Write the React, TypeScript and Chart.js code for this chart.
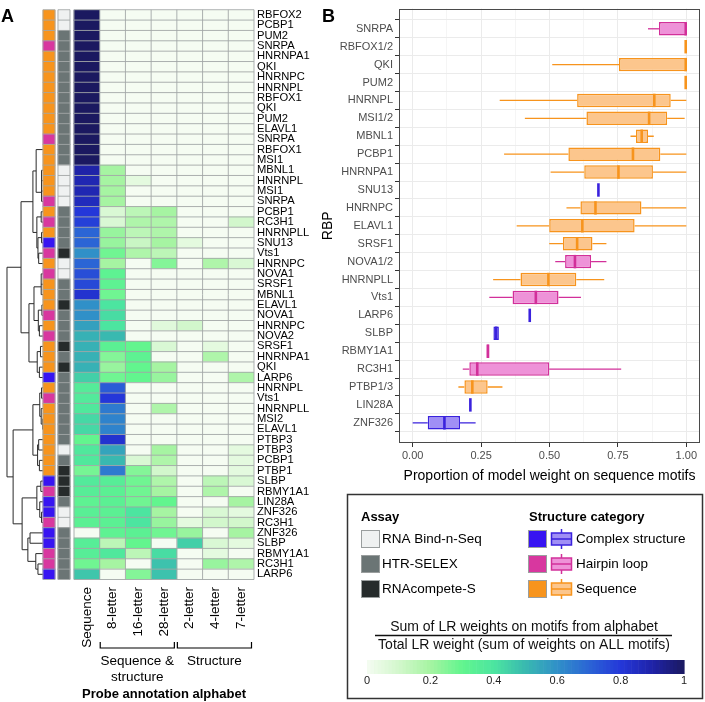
import React, { useEffect, useRef } from "react";
import { Chart, registerables } from "chart.js";

Chart.register(...registerables);

const FONT = "'Liberation Sans', Arial, Helvetica, sans-serif";
Chart.defaults.font.family = FONT;

// ---------------- Panel A data ----------------
const rowLabels = [
  "RBFOX2", "PCBP1", "PUM2", "SNRPA", "HNRNPA1", "QKI", "HNRNPC", "HNRNPL", "RBFOX1", "QKI",
  "PUM2", "ELAVL1", "SNRPA", "RBFOX1", "MSI1", "MBNL1", "HNRNPL", "MSI1", "SNRPA", "PCBP1",
  "RC3H1", "HNRNPLL", "SNU13", "Vts1", "HNRNPC", "NOVA1", "SRSF1", "MBNL1", "ELAVL1", "NOVA1",
  "HNRNPC", "NOVA2", "SRSF1", "HNRNPA1", "QKI", "LARP6", "HNRNPL", "Vts1", "HNRNPLL", "MSI2",
  "ELAVL1", "PTBP3", "PTBP3", "PCBP1", "PTBP1", "SLBP", "RBMY1A1", "LIN28A", "ZNF326", "RC3H1",
  "ZNF326", "SLBP", "RBMY1A1", "RC3H1", "LARP6",
];

// S = Sequence, H = Hairpin loop, C = Complex structure
const rowStructure = [
  "S", "S", "S", "H", "S", "S", "S", "S", "S", "S",
  "S", "S", "H", "S", "S", "S", "S", "S", "H", "S",
  "H", "S", "C", "H", "S", "H", "S", "S", "S", "H",
  "S", "H", "S", "S", "S", "C", "S", "H", "S", "S",
  "S", "S", "S", "S", "S", "C", "H", "C", "C", "H",
  "C", "C", "H", "H", "C",
];

// B = RNA Bind-n-Seq, X = HTR-SELEX, R = RNAcompete-S
const rowAssay = [
  "B", "B", "X", "X", "X", "X", "X", "X", "X", "X",
  "X", "X", "X", "X", "X", "B", "B", "B", "B", "X",
  "X", "X", "X", "R", "B", "B", "X", "X", "R", "X",
  "X", "X", "R", "X", "R", "X", "X", "X", "X", "X",
  "X", "X", "B", "X", "R", "R", "R", "X", "B", "B",
  "X", "X", "X", "X", "X",
];

const alphabetNames = ["Sequence", "8-letter", "16-letter", "28-letter", "2-letter", "4-letter", "7-letter"];

const wSequence = [
  1, 1, 1, 1, 1, 1, 1, 1, 1, 1,
  1, 1, 1, 1, 1, 0.9, 0.88, 0.88, 0.86, 0.8,
  0.78, 0.7, 0.7, 0.6, 0.7, 0.75, 0.76, 0.82, 0.6, 0.6,
  0.56, 0.52, 0.52, 0.52, 0.52, 0.45, 0.36, 0.37, 0.38, 0.43,
  0.43, 0.3, 0.38, 0.38, 0.27, 0.37, 0.35, 0.32, 0.34, 0.33,
  0, 0.35, 0.35, 0.28, 0.47,
];
const w8letter = [
  0, 0, 0, 0, 0, 0, 0, 0, 0, 0,
  0, 0, 0, 0, 0, 0.2, 0.2, 0.2, 0.2, 0.08,
  0.08, 0.22, 0.22, 0.28, 0.2, 0.32, 0.32, 0.28, 0.4, 0.42,
  0.4, 0.5, 0.33, 0.25, 0.22, 0.28, 0.72, 0.8, 0.65, 0.63,
  0.63, 0.82, 0.55, 0.5, 0.65, 0.35, 0.33, 0.33, 0.33, 0.33,
  0.32, 0.15, 0.38, 0.2, 0,
];
const w16letter = [
  0, 0, 0, 0, 0, 0, 0, 0, 0, 0,
  0, 0, 0, 0, 0, 0, 0.05, 0, 0, 0.15,
  0.18, 0.15, 0.12, 0.18, 0, 0, 0, 0, 0, 0,
  0, 0, 0.3, 0.32, 0.3, 0.3, 0, 0, 0, 0,
  0, 0, 0, 0.08, 0.25, 0.28, 0.28, 0.28, 0.4, 0.4,
  0.33, 0.3, 0.15, 0, 0.25,
];
const w28letter = [
  0, 0, 0, 0, 0, 0, 0, 0, 0, 0,
  0, 0, 0, 0, 0, 0, 0, 0, 0, 0.2,
  0.18, 0.18, 0.2, 0.15, 0.25, 0, 0, 0, 0, 0,
  0.06, 0, 0.08, 0, 0.2, 0.22, 0, 0, 0.18, 0,
  0, 0, 0.2, 0.18, 0.1, 0.18, 0.2, 0.3, 0.2, 0.22,
  0.28, 0, 0.42, 0.48, 0.48,
];
const w2letter = [
  0, 0, 0, 0, 0, 0, 0, 0, 0, 0,
  0, 0, 0, 0, 0, 0, 0, 0, 0, 0,
  0, 0, 0.05, 0, 0, 0, 0, 0, 0, 0,
  0.1, 0, 0, 0, 0, 0, 0, 0, 0, 0,
  0, 0, 0, 0, 0, 0, 0, 0, 0, 0.05,
  0.22, 0.45, 0, 0, 0,
];
const w4letter = [
  0, 0, 0, 0, 0, 0, 0, 0, 0, 0,
  0, 0, 0, 0, 0, 0, 0, 0, 0, 0,
  0, 0, 0, 0, 0.18, 0, 0, 0, 0, 0,
  0, 0, 0.05, 0.18, 0, 0, 0, 0, 0, 0,
  0, 0, 0, 0, 0, 0.15, 0.18, 0, 0.08, 0.1,
  0, 0.08, 0.05, 0.22, 0,
];
const w7letter = [
  0, 0, 0, 0, 0, 0, 0, 0, 0, 0,
  0, 0, 0, 0, 0, 0, 0, 0, 0, 0,
  0.1, 0, 0, 0, 0.08, 0, 0, 0, 0, 0,
  0, 0, 0, 0, 0, 0.18, 0, 0, 0, 0,
  0, 0, 0.05, 0.05, 0.05, 0.08, 0, 0.2, 0.05, 0.1,
  0.2, 0.05, 0, 0.18, 0,
];

// dendrogram: arrays = children..., last element = merge height (0..1); numbers = row (1-based)
const dendroTree: any = [
  [
    [
      [[1, 2, 3, 4, 5, 6, 7, 8, 9, 10, 11, 12, 13, 14, 15, 0], [16, 17, 18, 19, 0.04], 0.19],
      [[20, 21, 0.05], [[22, 23, 0.04], [24, 25, 0.12], 0.14], 0.17],
      0.28,
    ],
    [
      [[26, 27, 28, 0.05], [[29, 30, 0.03], [31, 32, 0.1], 0.13], 0.25],
      [[33, 34, 0.07], [35, 36, 0.1], 0.16],
      0.39,
    ],
    0.61,
  ],
  [
    [[[37, 38, 0.04], [39, [40, 41, 0.01], 0.05], 0.09], [[42, 43, 0.12], [44, 45, 0.1], 0.15], 0.28],
    [[[46, 47, 0.06], [48, [49, 50, 0.04], 0.09], 0.17], [[51, 52, 0.36], [53, [54, 55, 0.14], 0.2], 0.42], 0.58],
    0.83,
  ],
  1.0,
];

const columnGroups = [
  { lines: ["Sequence &", "structure"], from: 1, to: 4 },
  { lines: ["Structure"], from: 4, to: 7 },
];

// ---------------- Panel B data ----------------
const rbpNames = [
  "SNRPA", "RBFOX1/2", "QKI", "PUM2", "HNRNPL", "MSI1/2", "MBNL1", "PCBP1", "HNRNPA1", "SNU13",
  "HNRNPC", "ELAVL1", "SRSF1", "NOVA1/2", "HNRNPLL", "Vts1", "LARP6", "SLBP", "RBMY1A1", "RC3H1",
  "PTBP1/3", "LIN28A", "ZNF326",
];
const rbpStructure = ["H", "S", "S", "S", "S", "S", "S", "S", "S", "C", "S", "S", "S", "H", "S", "H", "C", "C", "H", "H", "S", "C", "C"];
const whiskerLow = [0.86, 1, 0.51, 1, 0.318, 0.41, 0.796, 0.334, 0.504, 0.681, 0.562, 0.38, 0.499, 0.521, 0.294, 0.28, 0.43, 0.295, 0.27, 0.183, 0.167, 0.213, 0.0];
const quart1 = [0.9, 1, 0.754, 1, 0.601, 0.635, 0.816, 0.569, 0.627, 0.681, 0.613, 0.499, 0.549, 0.557, 0.394, 0.365, 0.43, 0.295, 0.27, 0.207, 0.189, 0.213, 0.055];
const medians = [1.0, 1, 1.0, 1, 0.883, 0.864, 0.837, 0.805, 0.752, 0.681, 0.668, 0.62, 0.601, 0.593, 0.496, 0.45, 0.43, 0.305, 0.275, 0.236, 0.218, 0.213, 0.116];
const quart3 = [1.0, 1, 1.0, 1, 0.943, 0.93, 0.86, 0.905, 0.878, 0.681, 0.836, 0.811, 0.657, 0.652, 0.598, 0.533, 0.43, 0.315, 0.28, 0.499, 0.274, 0.213, 0.173];
const whiskerHigh = [1.0, 1, 1.0, 1, 1.0, 0.994, 0.881, 1.0, 1.0, 0.681, 1.0, 1.0, 0.708, 0.708, 0.7, 0.615, 0.43, 0.315, 0.28, 0.762, 0.328, 0.213, 0.23];

const xMajorTicks = [0, 0.25, 0.5, 0.75, 1];
const xMinorTicks = [0.125, 0.375, 0.625, 0.875];

const assayLegend = [
  { code: "B", name: "RNA Bind-n-Seq" },
  { code: "X", name: "HTR-SELEX" },
  { code: "R", name: "RNAcompete-S" },
];
const structureLegend = [
  { code: "C", name: "Complex structure" },
  { code: "H", name: "Hairpin loop" },
  { code: "S", name: "Sequence" },
];
const colorbarTicks = [0, 0.2, 0.4, 0.6, 0.8, 1];
const colorbarTickLabels = ["0", "0.2", "0.4", "0.6", "0.8", "1"];

// ---------------- styles ----------------
const STRUCT_COLORS: Record<string, string> = { S: "#F7941D", H: "#D8379F", C: "#3714F2" };
const BOX_FILL: Record<string, string> = { S: "#FCC68D", H: "#EE92D8", C: "#A08FF5" };
const BOX_STROKE: Record<string, string> = { S: "#F7941D", H: "#D2309A", C: "#3A22DD" };
const ASSAY_COLORS: Record<string, string> = { B: "#EFF1F1", X: "#6B7575", R: "#262B2B" };

const heatStops: [number, string][] = [
  [0, "#F5FCF2"], [0.1, "#D2F7CC"], [0.2, "#A6F4A2"], [0.3, "#62F58E"], [0.4, "#4CE5A0"],
  [0.5, "#39B9B0"], [0.6, "#3090C8"], [0.7, "#2B65D5"], [0.8, "#2437D9"], [0.9, "#1F23A8"], [1, "#1B1960"],
];
function hexToRgb(h: string) {
  return [parseInt(h.slice(1, 3), 16), parseInt(h.slice(3, 5), 16), parseInt(h.slice(5, 7), 16)];
}
function heatColor(v: number) {
  const t = Math.max(0, Math.min(1, v));
  for (let i = 1; i < heatStops.length; i++) {
    const [v1, c1] = heatStops[i];
    const [v0, c0] = heatStops[i - 1];
    if (t <= v1) {
      const f = (t - v0) / (v1 - v0);
      const a = hexToRgb(c0), b = hexToRgb(c1);
      return `rgb(${Math.round(a[0] + (b[0] - a[0]) * f)},${Math.round(a[1] + (b[1] - a[1]) * f)},${Math.round(a[2] + (b[2] - a[2]) * f)})`;
    }
  }
  return heatStops[heatStops.length - 1][1];
}

// x units of panel A: one heat column = 1 unit
const X_MIN = -2.878;
const X_MAX = 7;
const STRUCT_L = -1.206, STRUCT_R = -0.739;
const ASSAY_L = -0.623, ASSAY_R = -0.156;
const DENDRO_SPAN = 1.4;

function walkTree(ctx: CanvasRenderingContext2D, node: any, xOf: (h: number) => number, yOf: (r: number) => number): { x: number; y: number } {
  if (typeof node === "number") return { x: xOf(0), y: yOf(node) };
  const h = node[node.length - 1];
  const kids = node.slice(0, -1).map((k: any) => walkTree(ctx, k, xOf, yOf));
  const x = xOf(h);
  let y = kids[0].y;
  for (let i = 1; i < kids.length; i++) y = (y + kids[i].y) / 2;
  if (h > 0) {
    const ys = kids.map((k: any) => k.y);
    ctx.beginPath();
    ctx.moveTo(x, Math.min(...ys));
    ctx.lineTo(x, Math.max(...ys));
    kids.forEach((k: any) => {
      ctx.moveTo(k.x, k.y);
      ctx.lineTo(x, k.y);
    });
    ctx.stroke();
  }
  return { x, y };
}

const panelAPlugin = {
  id: "panelA",
  beforeDatasetsDraw(chart: any) {
    const { ctx } = chart;
    const xs = chart.scales.x, ys = chart.scales.y;
    ctx.save();
    ctx.strokeStyle = "#2a2a2a";
    ctx.lineWidth = 1;
    walkTree(ctx, dendroTree, (h) => xs.getPixelForValue(STRUCT_L - h * DENDRO_SPAN), (r) => ys.getPixelForValue(r - 1));
    ctx.restore();
  },
  afterDatasetsDraw(chart: any) {
    const { ctx } = chart;
    const xs = chart.scales.x, ys = chart.scales.y;
    const n = rowLabels.length;
    const band = ys.getPixelForValue(1) - ys.getPixelForValue(0);
    const top = ys.getPixelForValue(0) - band / 2;
    const blocks: [number, number, number][] = [[STRUCT_L, STRUCT_R, 1], [ASSAY_L, ASSAY_R, 1], [0, alphabetNames.length, alphabetNames.length]];
    ctx.save();
    ctx.strokeStyle = "#A3A7A7";
    ctx.lineWidth = 0.9;
    blocks.forEach(([L, R, cols]) => {
      const x0 = xs.getPixelForValue(L), x1 = xs.getPixelForValue(R);
      ctx.beginPath();
      for (let r = 0; r <= n; r++) {
        const y = top + r * band;
        ctx.moveTo(x0, y);
        ctx.lineTo(x1, y);
      }
      for (let c = 0; c <= cols; c++) {
        const x = x0 + ((x1 - x0) * c) / cols;
        ctx.moveTo(x, top);
        ctx.lineTo(x, top + n * band);
      }
      ctx.stroke();
    });
    ctx.restore();
  },
  afterDraw(chart: any) {
    const { ctx } = chart;
    const xs = chart.scales.x;
    const bottom = chart.chartArea.bottom;
    ctx.save();
    ctx.fillStyle = "#000";
    ctx.font = `13.5px ${FONT}`;
    alphabetNames.forEach((name, j) => {
      const px = xs.getPixelForValue(j + 0.5);
      ctx.save();
      ctx.translate(px, bottom + 7.5);
      ctx.rotate(-Math.PI / 2);
      ctx.textAlign = "right";
      ctx.textBaseline = "middle";
      ctx.fillText(name, 0, 0);
      ctx.restore();
    });
    ctx.strokeStyle = "#000";
    ctx.lineWidth = 1.2;
    ctx.textAlign = "center";
    ctx.textBaseline = "middle";
    columnGroups.forEach((g) => {
      const x0 = xs.getPixelForValue(g.from) + 0.5;
      const x1 = xs.getPixelForValue(g.to) - 2.5;
      const yb = bottom + 68.5;
      ctx.beginPath();
      ctx.moveTo(x0, yb - 6);
      ctx.lineTo(x0, yb);
      ctx.lineTo(x1, yb);
      ctx.lineTo(x1, yb - 6);
      ctx.stroke();
      g.lines.forEach((t, k) => ctx.fillText(t, (x0 + x1) / 2, bottom + 81.5 + k * 16));
    });
    ctx.font = `bold 13px ${FONT}`;
    ctx.fillText("Probe annotation alphabet", (xs.getPixelForValue(0) + xs.getPixelForValue(alphabetNames.length)) / 2, bottom + 114.5);
    ctx.font = `bold 18px ${FONT}`;
    ctx.textAlign = "left";
    ctx.textBaseline = "alphabetic";
    ctx.fillText("A", 1, 22);
    ctx.restore();
  },
};

function drawGlyph(ctx: CanvasRenderingContext2D, x: number, cy: number, code: string) {
  const w = 20;
  ctx.strokeStyle = BOX_STROKE[code];
  ctx.lineWidth = 1.5;
  ctx.fillStyle = BOX_FILL[code];
  ctx.fillRect(x, cy - 6, w, 12);
  ctx.strokeRect(x, cy - 6, w, 12);
  ctx.beginPath();
  ctx.moveTo(x, cy);
  ctx.lineTo(x + w, cy);
  ctx.moveTo(x + w / 2, cy - 10);
  ctx.lineTo(x + w / 2, cy - 6);
  ctx.moveTo(x + w / 2, cy + 6);
  ctx.lineTo(x + w / 2, cy + 10);
  ctx.stroke();
}

const panelBPlugin = {
  id: "panelB",
  beforeDatasetsDraw(chart: any) {
    const { ctx } = chart;
    const xs = chart.scales.x, ys = chart.scales.y;
    ctx.save();
    ctx.lineWidth = 1.3;
    rbpNames.forEach((_, i) => {
      const y = ys.getPixelForValue(i);
      ctx.strokeStyle = BOX_STROKE[rbpStructure[i]];
      ctx.beginPath();
      if (whiskerLow[i] < quart1[i]) {
        ctx.moveTo(xs.getPixelForValue(whiskerLow[i]), y);
        ctx.lineTo(xs.getPixelForValue(quart1[i]), y);
      }
      if (whiskerHigh[i] > quart3[i]) {
        ctx.moveTo(xs.getPixelForValue(quart3[i]), y);
        ctx.lineTo(xs.getPixelForValue(whiskerHigh[i]), y);
      }
      ctx.stroke();
    });
    ctx.restore();
  },
  afterDatasetsDraw(chart: any) {
    const { ctx, chartArea } = chart;
    const xs = chart.scales.x, ys = chart.scales.y;
    const meta = chart.getDatasetMeta(0);
    ctx.save();
    ctx.lineWidth = 2.6;
    rbpNames.forEach((_, i) => {
      const el = meta.data[i];
      const h = el.height;
      const y = ys.getPixelForValue(i);
      const x = Math.min(xs.getPixelForValue(medians[i]), xs.getPixelForValue(quart3[i]) - 0.6);
      ctx.strokeStyle = BOX_STROKE[rbpStructure[i]];
      ctx.beginPath();
      ctx.moveTo(x, y - h / 2);
      ctx.lineTo(x, y + h / 2);
      ctx.stroke();
    });
    ctx.strokeStyle = "#4a4a4a";
    ctx.lineWidth = 1;
    ctx.strokeRect(Math.round(chartArea.left) + 0.5, Math.round(chartArea.top) + 0.5, Math.round(chartArea.right - chartArea.left) - 1, Math.round(chartArea.bottom - chartArea.top) - 1);
    ctx.restore();
  },
  afterDraw(chart: any) {
    const { ctx } = chart;
    ctx.save();
    ctx.fillStyle = "#000";
    ctx.font = `bold 18px ${FONT}`;
    ctx.textAlign = "left";
    ctx.textBaseline = "alphabetic";
    ctx.fillText("B", 322, 22);

    // legend box
    ctx.strokeStyle = "#333";
    ctx.lineWidth = 1.5;
    ctx.strokeRect(347.5, 494.5, 355, 204);
    ctx.textBaseline = "middle";
    ctx.font = `bold 13px ${FONT}`;
    ctx.fillText("Assay", 361, 517);
    ctx.fillText("Structure category", 529, 517);
    ctx.font = `13.5px ${FONT}`;
    assayLegend.forEach((it, i) => {
      const cy = 539 + i * 25;
      ctx.fillStyle = ASSAY_COLORS[it.code];
      ctx.fillRect(361, cy - 9, 19, 18);
      ctx.strokeStyle = "#9a9e9e";
      ctx.lineWidth = 1;
      ctx.strokeRect(361.5, cy - 8.5, 18, 17);
      ctx.fillStyle = "#000";
      ctx.fillText(it.name, 382, cy);
    });
    structureLegend.forEach((it, i) => {
      const cy = 539 + i * 25;
      ctx.fillStyle = STRUCT_COLORS[it.code];
      ctx.fillRect(528, cy - 9, 19, 18);
      ctx.strokeStyle = "#9a9e9e";
      ctx.lineWidth = 1;
      ctx.strokeRect(528.5, cy - 8.5, 18, 17);
      drawGlyph(ctx, 551.5, cy, it.code);
      ctx.fillStyle = "#000";
      ctx.fillText(it.name, 576, cy);
    });

    // fraction
    ctx.textAlign = "center";
    ctx.font = `14px ${FONT}`;
    ctx.fillStyle = "#111";
    ctx.fillText("Sum of LR weights on motifs from alphabet", 524, 627);
    ctx.fillText("Total LR weight (sum of weights on ALL motifs)", 524, 645);
    ctx.strokeStyle = "#111";
    ctx.lineWidth = 1.5;
    ctx.beginPath();
    ctx.moveTo(375, 635.5);
    ctx.lineTo(672, 635.5);
    ctx.stroke();

    // colorbar
    const cx0 = 367, cx1 = 684, cy0 = 660, ch = 14;
    const N = 90;
    const w = (cx1 - cx0) / N;
    for (let i = 0; i < N; i++) {
      ctx.fillStyle = heatColor((i + 0.5) / N);
      ctx.fillRect(cx0 + i * w, cy0, w + 0.6, ch);
    }
    ctx.font = `11px ${FONT}`;
    ctx.fillStyle = "#222";
    colorbarTicks.forEach((v, i) => {
      ctx.fillText(colorbarTickLabels[i], cx0 + v * (cx1 - cx0), 681);
    });
    ctx.restore();
  },
};

export default function App() {
  const aRef = useRef<HTMLCanvasElement>(null);
  const bRef = useRef<HTMLCanvasElement>(null);

  useEffect(() => {
    const heatCols = [wSequence, w8letter, w16letter, w28letter, w2letter, w4letter, w7letter];
    const common = { borderWidth: 0, grouped: false, barPercentage: 1, categoryPercentage: 1 };
    const chartA = new Chart(aRef.current as HTMLCanvasElement, {
      type: "bar",
      data: {
        labels: rowLabels,
        datasets: [
          { ...common, data: rowLabels.map(() => [STRUCT_L, STRUCT_R]), backgroundColor: rowStructure.map((c) => STRUCT_COLORS[c]) },
          { ...common, data: rowLabels.map(() => [ASSAY_L, ASSAY_R]), backgroundColor: rowAssay.map((c) => ASSAY_COLORS[c]) },
          ...heatCols.map((vals, j) => ({ ...common, data: vals.map(() => [j, j + 1]), backgroundColor: vals.map(heatColor) })),
        ] as any,
      },
      options: {
        animation: false,
        responsive: false,
        maintainAspectRatio: false,
        indexAxis: "y",
        events: [],
        layout: { padding: { top: 2.7, bottom: 122.5, left: 0, right: 0 } },
        plugins: { legend: { display: false }, tooltip: { enabled: false } },
        scales: {
          x: { type: "linear", min: X_MIN, max: X_MAX, display: false },
          y: {
            type: "category",
            position: "right",
            grid: { display: false, drawTicks: false },
            border: { display: false },
            ticks: { autoSkip: false, color: "#000", padding: 3, font: { size: 11.2, family: FONT } },
            afterFit: (s: any) => { s.width = 66; },
          },
        },
      } as any,
      plugins: [panelAPlugin],
    });

    const chartB = new Chart(bRef.current as HTMLCanvasElement, {
      type: "bar",
      data: {
        datasets: [
          {
            data: rbpNames.map((_, i) => ({ y: i, x: [quart1[i], quart3[i]] })),
            backgroundColor: rbpStructure.map((c) => BOX_FILL[c]),
            borderColor: rbpStructure.map((c) => BOX_STROKE[c]),
            borderWidth: 1.5,
            borderSkipped: false,
            barPercentage: 0.75,
            categoryPercentage: 1,
          },
        ] as any,
      },
      options: {
        animation: false,
        responsive: false,
        maintainAspectRatio: false,
        indexAxis: "y",
        events: [],
        layout: { padding: { left: 320, top: 2, right: 5, bottom: 209 } },
        plugins: { legend: { display: false }, tooltip: { enabled: false } },
        scales: {
          x: {
            type: "linear",
            min: -0.05,
            max: 1.05,
            afterBuildTicks: (s: any) => {
              s.ticks = [...xMajorTicks, ...xMinorTicks].sort((a, b) => a - b).map((v) => ({ value: v }));
            },
            ticks: {
              autoSkip: false,
              maxRotation: 0,
              color: "#4D4D4D",
              padding: 2,
              font: { size: 11, family: FONT },
              callback: (v: any) => (xMajorTicks.includes(v) ? Number(v).toFixed(2) : ""),
            },
            grid: {
              color: "#EBEBEB",
              lineWidth: (c: any) => (c.tick && xMajorTicks.includes(c.tick.value) ? 1 : 0.5),
              tickColor: (c: any) => (c.tick && xMajorTicks.includes(c.tick.value) ? "#333" : "rgba(0,0,0,0)"),
              tickLength: 4,
            },
            border: { display: false },
            title: { display: true, text: "Proportion of model weight on sequence motifs", color: "#000", font: { size: 14, family: FONT }, padding: { top: 4, bottom: 8 } },
            afterFit: (s: any) => { s.height = 50; },
          },
          y: {
            type: "linear",
            min: -0.6,
            max: rbpNames.length - 1 + 0.6,
            reverse: true,
            afterBuildTicks: (s: any) => {
              s.ticks = rbpNames.map((_, i) => ({ value: i }));
            },
            ticks: {
              autoSkip: false,
              color: "#4D4D4D",
              padding: 2,
              font: { size: 11, family: FONT },
              callback: (v: any) => rbpNames[v] ?? "",
            },
            grid: { color: "#EBEBEB", lineWidth: 1, tickColor: "#333", tickLength: 4 },
            border: { display: false },
            title: { display: true, text: "RBP", color: "#000", font: { size: 14, family: FONT }, padding: 0 },
            afterFit: (s: any) => { s.width = 79; },
          },
        },
      } as any,
      plugins: [panelBPlugin],
    });

    return () => {
      chartA.destroy();
      chartB.destroy();
    };
  }, []);

  return (
    <div style={{ position: "absolute", left: 0, top: 0, width: 705, height: 702, background: "#fff", overflow: "hidden" }}>
      <canvas ref={aRef} width={320} height={702} style={{ position: "absolute", left: 0, top: 0, width: 320, height: 702 }} />
      <canvas ref={bRef} width={705} height={702} style={{ position: "absolute", left: 0, top: 0, width: 705, height: 702 }} />
    </div>
  );
}
